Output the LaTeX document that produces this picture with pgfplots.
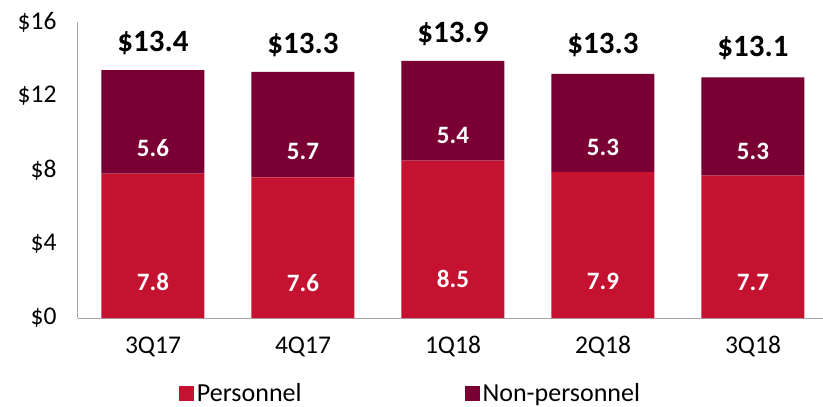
\documentclass[border=0pt]{standalone}
\usepackage{pgfplots}
\pgfplotsset{compat=1.18}
\usepackage{pgfplotstable}
\usepackage{fontspec}
\setmainfont{Carlito}
\definecolor{pers}{HTML}{C41230}
\definecolor{nonp}{HTML}{7A0034}
\definecolor{axgray}{HTML}{A6A6A6}
\pgfplotstableread{
x p n t
0 7.8 5.6 13.4
1 7.6 5.7 13.3
2 8.5 5.4 13.9
3 7.9 5.3 13.3
4 7.7 5.3 13.1
}\data
\pgfplotsset{common/.style={
  scale only axis,
  width=745pt, height=296pt,
  xmin=-0.5, xmax=4.4667,
  ymin=0, ymax=16,
  clip=false,
  /pgf/number format/assume math mode=true,
}}
\begin{document}
\begin{tikzpicture}
\begin{axis}[
  common,
  ybar stacked,
  bar width=103pt,
  axis x line*=bottom, axis y line*=left,
  axis line style={axgray, line width=1pt},
  xtick=data,
  xticklabels={3Q17,4Q17,1Q18,2Q18,3Q18},
  ytick={0,4,8,12,16},
  yticklabel={\$\pgfmathprintnumber{\tick}},
  major tick length=0pt,
  tick label style={font=\fontsize{25.5}{28}\selectfont, black},
  xticklabel style={yshift=-15pt},
  yticklabel style={xshift=-18pt},
  legend style={at={(333pt,-75pt)}, anchor=center, draw=none, fill=none,
    inner ysep=0pt,
    legend columns=2, nodes={font=\fontsize{26}{28}\selectfont, inner xsep=3pt, inner ysep=1pt},
    /tikz/every even column/.append style={column sep=160pt}},
  legend image code/.code={\fill[#1] (0pt,-7.5pt) rectangle (15pt,7.5pt);},
]
\addplot[fill=pers, draw=none,
  point meta=explicit,
  visualization depends on={\thisrow{p} \as \h},
  nodes near coords={\pgfmathprintnumber[fixed,precision=1,fixed zerofill]{\pgfplotspointmeta}},
  every node near coord/.append style={anchor=center, yshift=-\h*4.625pt, text=white, font=\fontsize{25}{28}\selectfont\bfseries},
] table[x=x, y=p, meta=p]{\data};
\addlegendentry{Personnel}
\addplot[fill=nonp, draw=none,
  point meta=explicit,
  visualization depends on={\thisrow{n} \as \h},
  nodes near coords={\pgfmathprintnumber[fixed,precision=1,fixed zerofill]{\pgfplotspointmeta}},
  every node near coord/.append style={anchor=center, yshift=-\h*4.625pt, text=white, font=\fontsize{25}{28}\selectfont\bfseries},
] table[x=x, y=n, meta=n]{\data};
\addlegendentry{Non-personnel}
\end{axis}
\begin{axis}[common, hide axis]
\addplot[only marks, mark=none, draw=none,
  point meta=explicit,
  nodes near coords={\$\pgfmathprintnumber[fixed,precision=1,fixed zerofill]{\pgfplotspointmeta}},
  every node near coord/.append style={anchor=south, yshift=12pt, text=black, font=\fontsize{31}{34}\selectfont\bfseries},
] table[x=x, y=t, meta=t]{\data};
\end{axis}
\pgfresetboundingbox
\path[use as bounding box] (-78pt,-89pt) rectangle (745pt,318pt);
\end{tikzpicture}
\end{document}
